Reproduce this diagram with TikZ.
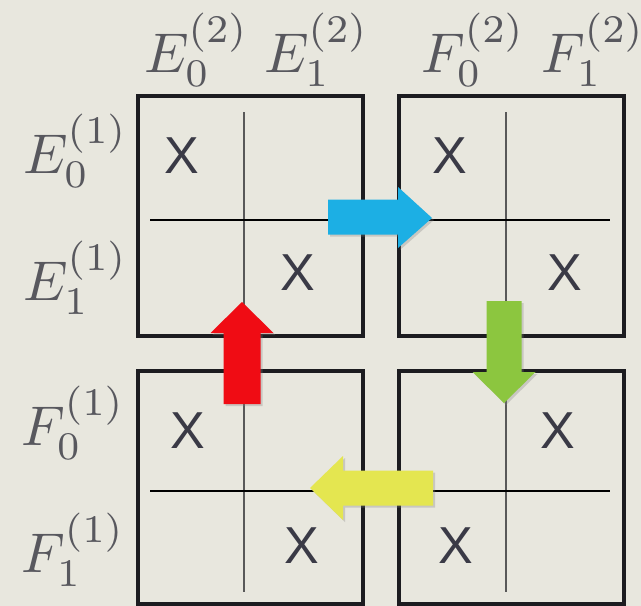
\documentclass[tikz,border=0pt]{standalone}
\usepackage{fontspec}
\newfontfamily\xfont{Liberation Sans}
\usetikzlibrary{shadows}
\definecolor{bgc}{RGB}{232,231,222}
\definecolor{boxc}{RGB}{28,28,32}
\definecolor{labc}{RGB}{88,88,94}
\definecolor{xc}{RGB}{58,58,70}
\definecolor{arrblue}{RGB}{28,175,228}
\definecolor{arrred}{RGB}{240,12,20}
\definecolor{arrgreen}{RGB}{140,198,63}
\definecolor{arryellow}{RGB}{228,230,80}
\tikzset{
  gridbox/.style={draw=boxc, line width=4.5pt, minimum width=225pt, inner sep=0pt, outer sep=0pt},
  hline/.style={draw=black, line width=1.4pt},
  vline/.style={draw=black!65, line width=1.2pt},
  lab/.style={text=labc, inner sep=0pt, anchor=base west, scale=5.6, font=\fontsize{10}{12}\selectfont},
  xmark/.style={text=xc, inner sep=0pt, font=\xfont\fontsize{52}{52}\selectfont},
  blockarrow/.style={drop shadow={opacity=0.3, shadow xshift=2pt, shadow yshift=-2pt}}
}
\begin{document}
\begin{tikzpicture}[x=1pt,y=-1pt]
\fill[bgc] (0,0) rectangle (641,606);
\useasboundingbox (0,0) rectangle (641,606);
% boxes
\node[gridbox, minimum height=240pt] (TL) at (250.5,216) {};
\node[gridbox, minimum height=240pt] (TR) at (511.5,216) {};
\node[gridbox, minimum height=233pt] (BL) at (250.5,487.5) {};
\node[gridbox, minimum height=233pt] (BR) at (511.5,487.5) {};
% inner lines
\coordinate (h1a) at (150,220); \coordinate (h1b) at (610,220);
\coordinate (h2a) at (150,491); \coordinate (h2b) at (610,491);
\coordinate (v1a) at (244,112); \coordinate (v1b) at (244,320);
\coordinate (v2a) at (506,112); \coordinate (v2b) at (506,320);
\coordinate (v3a) at (244,385); \coordinate (v3b) at (244,592);
\coordinate (v4a) at (506,385); \coordinate (v4b) at (506,592);
\draw[vline] (v1a) -- (v1b);
\draw[vline] (v2a) -- (v2b);
\draw[vline] (v3a) -- (v3b);
\draw[vline] (v4a) -- (v4b);
\draw[hline] (h1a) -- (h1b);
\draw[hline] (h2a) -- (h2b);
% labels
\node[lab] (e02) at (143,72) {$E_0^{(2)}$};
\node[lab] (e12) at (263,72) {$E_1^{(2)}$};
\node[lab] (f02) at (420,72) {$F_0^{(2)}$};
\node[lab] (f12) at (540,72) {$F_1^{(2)}$};
\node[lab] (e01) at (22,173) {$E_0^{(1)}$};
\node[lab] (e11) at (22,300) {$E_1^{(1)}$};
\node[lab] (f01) at (20,445) {$F_0^{(1)}$};
\node[lab] (f11) at (20,572) {$F_1^{(1)}$};
% X marks
\node[xmark] (x1) at (182,156) {X};
\node[xmark] (x2) at (298,273) {X};
\node[xmark] (x3) at (450,156) {X};
\node[xmark] (x4) at (565,273) {X};
\node[xmark] (x5) at (188,431) {X};
\node[xmark] (x6) at (302,546) {X};
\node[xmark] (x7) at (558,431) {X};
\node[xmark] (x8) at (456,546) {X};
% block arrows
\fill[arrblue, blockarrow] (328,199.5) -- (398,199.5) -- (398,187) -- (432,218) -- (398,248) -- (398,234.5) -- (328,234.5) -- cycle;
\fill[arrgreen, blockarrow] (486.5,301) -- (521.5,301) -- (521.5,372) -- (535.5,372) -- (504,403) -- (472.5,372) -- (486.5,372) -- cycle;
\fill[arryellow, blockarrow] (433,470.5) -- (343,470.5) -- (343,456) -- (310,488) -- (343,520) -- (343,505.5) -- (433,505.5) -- cycle;
\fill[arrred, blockarrow] (223.5,404) -- (223.5,333) -- (210.5,333) -- (242,302) -- (273.5,333) -- (260.5,333) -- (260.5,404) -- cycle;
\end{tikzpicture}
\end{document}
